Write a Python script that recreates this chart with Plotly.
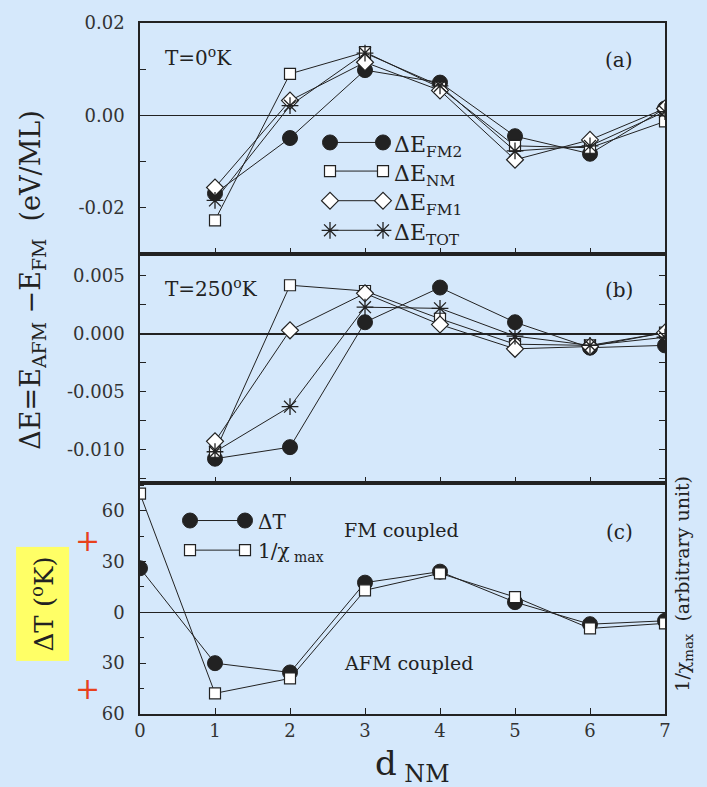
import plotly.graph_objects as go

# ---- data -------------------------------------------------------------
d_nm = [1, 2, 3, 4, 5, 6, 7]
d_nm_c = [0, 1, 2, 3, 4, 5, 6, 7]

# (a) T = 0 K  : energy differences (eV/ML)
a_fm2 = [-0.0169, -0.0049, 0.0098, 0.0071, -0.0045, -0.0083, 0.0015]
a_nm = [-0.0227, 0.0090, 0.0137, 0.0060, -0.0066, -0.0070, -0.0013]
a_fm1 = [-0.0156, 0.0032, 0.0115, 0.0054, -0.0096, -0.0053, 0.0015]
a_tot = [-0.0184, 0.0021, 0.0135, 0.0064, -0.0077, -0.0066, 0.0008]

# (b) T = 250 K
b_fm2 = [-0.0108, -0.0098, 0.0010, 0.0040, 0.0010, -0.0012, -0.0010]
b_nm = [-0.0102, 0.0042, 0.0037, 0.0013, -0.0009, -0.0010, 0.0001]
b_fm1 = [-0.0093, 0.0003, 0.0035, 0.0008, -0.0013, -0.0011, 0.0001]
b_tot = [-0.0102, -0.0063, 0.0023, 0.0022, -0.0002, -0.0010, -0.0003]

# (c) transition temperature shift and inverse susceptibility maximum
c_dt = [26, -30, -35.5, 17.5, 24, 6, -7, -5]
c_chi = [70, -47.8, -39, 13, 23, 9, -9.5, -6.5]

x_ticks = [0, 1, 2, 3, 4, 5, 6, 7]
a_ticks = [0.02, 0.0, -0.02]
a_tick_text = ["0.02", "0.00", "-0.02"]
b_ticks = [0.005, 0.0, -0.005, -0.010]
b_tick_text = ["0.005", "0.000", "-0.005", "-0.010"]
c_ticks = [60, 30, 0, -30, -60]
c_tick_text = ["60", "30", "0", "30", "60"]

# ---- styling -------------------------------------------------------------
BG = "rgb(213,232,251)"
INK = "#222222"
FONT = "DejaVu Serif"
W, H = 707, 787
L, R, T, B = 140, 42, 14, 73
PW, PH = W - L - R, H - T - B

X_RANGE = [0, 7]
A_RANGE = [-0.030, 0.020]
B_RANGE = [-0.0129, 0.0069]
C_RANGE = [-60, 76.3]
A_DOM = [0.6657, 1.0]
B_DOM = [0.3343, 0.6657]
C_DOM = [0.0, 0.3343]


def px(x):
    return (x - L) / PW


def py(y):
    return (H - B - y) / PH


def xdata(xpix):
    return X_RANGE[0] + px(xpix) * (X_RANGE[1] - X_RANGE[0])


def ydata(ypix, rng, dom):
    frac = (py(ypix) - dom[0]) / (dom[1] - dom[0])
    return rng[0] + frac * (rng[1] - rng[0])


STYLES = {
    "fm2": dict(symbol="circle", size=15, color=INK, line=dict(color=INK, width=1)),
    "nm": dict(symbol="square", size=11, color="white", line=dict(color=INK, width=1.2)),
    "fm1": dict(symbol="diamond", size=13, color="white", line=dict(color=INK, width=1.2)),
    "tot": dict(symbol="asterisk-open", size=14, color=INK, line=dict(color=INK, width=1.3)),
}

fig = go.Figure()


def series(x, y, key, xa, ya):
    fig.add_trace(go.Scatter(
        x=x, y=y, mode="lines+markers", xaxis=xa, yaxis=ya,
        line=dict(color=INK, width=1), marker=STYLES[key],
        showlegend=False, hoverinfo="skip"))


for key, vals in [("fm2", a_fm2), ("nm", a_nm), ("fm1", a_fm1), ("tot", a_tot)]:
    series(d_nm, vals, key, "x3", "y3")
for key, vals in [("fm2", b_fm2), ("nm", b_nm), ("fm1", b_fm1), ("tot", b_tot)]:
    series(d_nm, vals, key, "x2", "y2")
series(d_nm_c, c_dt, "fm2", "x", "y")
series(d_nm_c, c_chi, "nm", "x", "y")

txt = dict(family=FONT, color=INK)
annotations = []

# ---- in-panel keys ----------------------------------------------------------
key_a = [("fm2", "ΔE<sub>FM2</sub>", 135), ("nm", "ΔE<sub>NM</sub>", 164),
         ("fm1", "ΔE<sub>FM1</sub>", 194), ("tot", "ΔE<sub>TOT</sub>", 224)]
for key, label, ypix in key_a:
    yv = ydata(ypix, A_RANGE, A_DOM)
    series([xdata(330), xdata(383)], [yv, yv], key, "x3", "y3")
    annotations.append(dict(x=px(392), y=py(ypix + 4), text=label, xanchor="left",
                            font=dict(size=22, **txt)))

key_c = [("fm2", "ΔT", 518), ("nm", "1/χ<sub> max</sub>", 548)]
for key, label, ypix in key_c:
    yv = ydata(ypix, C_RANGE, C_DOM)
    series([xdata(190), xdata(245)], [yv, yv], key, "x", "y")
    annotations.append(dict(x=px(256), y=py(ypix + 2), text=label, xanchor="left",
                            font=dict(size=20, **txt)))

axis_common = dict(showline=True, linecolor=INK, linewidth=1.5, mirror=True,
                   ticks="inside", ticklen=6, tickcolor=INK, tickwidth=1.2,
                   showgrid=False, tickfont=dict(size=18, family=FONT, color="#333"))
y_common = dict(axis_common, ticklabelstandoff=10)

fig.update_layout(
    width=W, height=H, paper_bgcolor=BG, plot_bgcolor=BG,
    margin=dict(l=L, r=R, t=T, b=B),
    font=dict(family=FONT),
    xaxis=dict(domain=[0, 1], range=X_RANGE, anchor="y", tickmode="array",
               tickvals=x_ticks, zeroline=False, **axis_common),
    xaxis2=dict(domain=[0, 1], range=X_RANGE, anchor="y2", tickmode="array",
                tickvals=x_ticks, showticklabels=False, zeroline=False, **axis_common),
    xaxis3=dict(domain=[0, 1], range=X_RANGE, anchor="y3", tickmode="array",
                tickvals=x_ticks, showticklabels=False, zeroline=False, **axis_common),
    yaxis=dict(domain=C_DOM, range=C_RANGE, anchor="x", tickmode="array",
               tickvals=c_ticks, ticktext=c_tick_text, zeroline=True,
               zerolinecolor=INK, zerolinewidth=1.2,
               minor=dict(tickvals=[-45, -15, 15, 45, 75], ticks="inside", ticklen=4,
                          tickcolor=INK),
               **y_common),
    yaxis2=dict(domain=B_DOM, range=B_RANGE, anchor="x2",
                tickmode="array", tickvals=b_ticks, ticktext=b_tick_text,
                zeroline=True, zerolinecolor=INK, zerolinewidth=1.8,
                minor=dict(tickvals=[0.0025, -0.0025, -0.0075, -0.0125], ticks="inside",
                           ticklen=6, tickcolor=INK),
                **{**y_common, "mirror": "ticks"}),
    yaxis3=dict(domain=A_DOM, range=A_RANGE, anchor="x3",
                tickmode="array", tickvals=a_ticks, ticktext=a_tick_text,
                zeroline=True, zerolinecolor=INK, zerolinewidth=1.2,
                minor=dict(tickvals=[0.01, -0.01], ticks="inside", ticklen=6,
                           tickcolor=INK),
                **y_common),
)

annotations += [
    dict(x=px(163), y=py(48), text="T=0<sup>o</sup>K", xanchor="left", font=dict(size=20, **txt)),
    dict(x=px(619), y=py(51), text="(a)", font=dict(size=20, **txt)),
    dict(x=px(163), y=py(282), text="T=250<sup>o</sup>K", xanchor="left", font=dict(size=20, **txt)),
    dict(x=px(619), y=py(284), text="(b)", font=dict(size=20, **txt)),
    dict(x=px(619), y=py(530), text="(c)", font=dict(size=20, **txt)),
    dict(x=px(342), y=py(528), text="FM coupled", xanchor="left", font=dict(size=19, **txt)),
    dict(x=px(342), y=py(662), text="AFM coupled", xanchor="left", font=dict(size=19, **txt)),
    # axis titles
    dict(x=px(33), y=py(275), text="ΔE=E<sub>AFM</sub> −E<sub>FM</sub>  (eV/ML)",
         textangle=-90, font=dict(size=27, **txt)),
    dict(x=px(43), y=py(603), text="ΔT (<sup>o</sup>K)", textangle=-90,
         bgcolor="#ffff66", borderpad=9, font=dict(size=26, **txt)),
    dict(x=px(87), y=py(538), text="+", font=dict(size=30, family=FONT, color="#e8401c")),
    dict(x=px(87), y=py(688), text="+", font=dict(size=30, family=FONT, color="#e8401c")),
    dict(x=px(684), y=py(582), text="1/χ<sub>max</sub>  (arbitrary unit)", textangle=-90,
         font=dict(size=19, **txt)),
    dict(x=px(412), y=py(766), text="d<sub> NM</sub>", font=dict(size=34, **txt)),
]
for a in annotations:
    a.setdefault("xref", "paper")
    a.setdefault("yref", "paper")
    a.setdefault("xanchor", "center")
    a.setdefault("yanchor", "middle")
    a.setdefault("showarrow", False)
fig.update_layout(annotations=annotations)

fig.write_html("out.html")
